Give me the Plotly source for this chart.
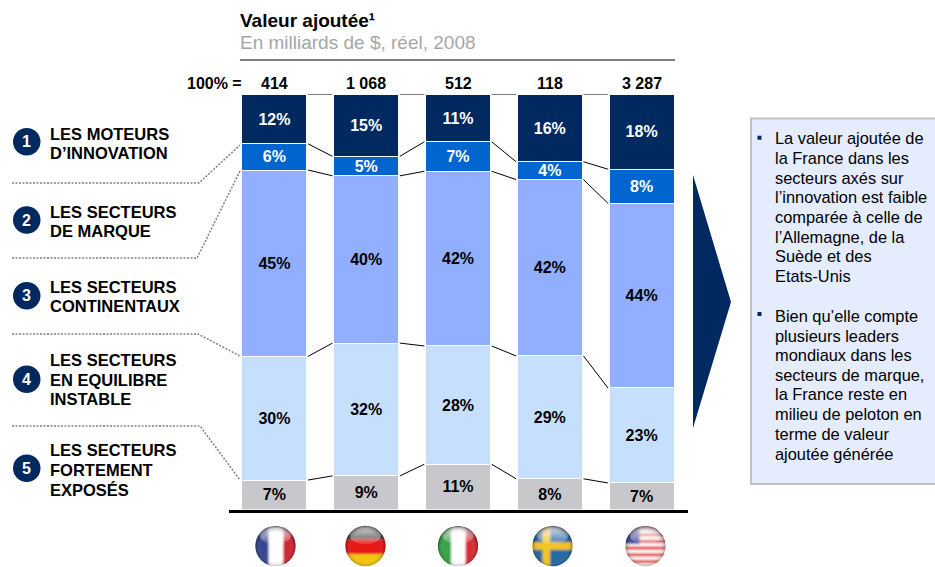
import base64
import plotly.graph_objects as go

W, H = 935, 567
countries = ["France", "Allemagne", "Italie", "Suède", "Etats-Unis"]
totals = ["414", "1 068", "512", "118", "3 287"]
# bottom to top
exposes = [7.1, 8.1, 10.9, 7.4, 6.4]
equilibre = [29.8, 32.0, 28.5, 29.6, 22.9]
continentaux = [44.9, 40.3, 42.1, 42.5, 44.5]
marque = [6.3, 4.7, 7.1, 4.3, 8.2]
moteurs = [11.9, 14.9, 11.4, 16.2, 18.0]
exposes_lbl = ["7%", "9%", "11%", "8%", "7%"]
equilibre_lbl = ["30%", "32%", "28%", "29%", "23%"]
continentaux_lbl = ["45%", "40%", "42%", "42%", "44%"]
marque_lbl = ["6%", "5%", "7%", "4%", "8%"]
moteurs_lbl = ["12%", "15%", "11%", "16%", "18%"]

segments = [
    ("Les secteurs fortement exposés", exposes, exposes_lbl, "#C8C8CC", "#000000"),
    ("Les secteurs en équilibre instable", equilibre, equilibre_lbl, "#C5DFFC", "#000000"),
    ("Les secteurs continentaux", continentaux, continentaux_lbl, "#92AEFF", "#000000"),
    ("Les secteurs de marque", marque, marque_lbl, "#0065CE", "#FFFFFF"),
    ("Les moteurs d'innovation", moteurs, moteurs_lbl, "#002960", "#FFFFFF"),
]
groups = [
    ("1", 141.7, [("LES MOTEURS", 133.5), ("D’INNOVATION", 153.3)]),
    ("2", 220, [("LES SECTEURS", 212.3), ("DE MARQUE", 231.3)]),
    ("3", 295.7, [("LES SECTEURS", 286.7), ("CONTINENTAUX", 306)]),
    ("4", 379.3, [("LES SECTEURS", 360), ("EN EQUILIBRE", 380), ("INSTABLE", 399.3)]),
    ("5", 468.3, [("LES SECTEURS", 450), ("FORTEMENT", 470), ("EXPOSÉS", 490)]),
]
bullets = [
    (137.7, [("La valeur ajoutée de", 138.2), ("la France dans les", 157.8), ("secteurs axés sur", 177.6),
             ("l’innovation est faible", 197.3), ("comparée à celle de", 216.9), ("l’Allemagne, de la", 236.7),
             ("Suède et des", 256.3), ("Etats-Unis", 276.5)]),
    (314, [("Bien qu’elle compte", 316), ("plusieurs leaders", 335.7), ("mondiaux dans les", 355.2),
           ("secteurs de marque,", 374.8), ("la France reste en", 394.4), ("milieu de peloton en", 414),
           ("terme de valeur", 433.8), ("ajoutée générée", 453.6)]),
]

FONT = "Liberation Sans, Arial, sans-serif"
BAR_W = 0.71
xs = list(range(len(countries)))
PLOT_L, PLOT_R, PLOT_T, PLOT_B = 228.5, 687.5, 94.5, 509.5


def px(x):
    return x / W


def py(y):
    return 1 - y / H


fig = go.Figure()
for name, vals, lbls, color, tcolor in segments:
    fig.add_bar(
        x=xs, y=vals, name=name, width=BAR_W, text=lbls, textposition="inside",
        insidetextanchor="middle", textangle=0, constraintext="none",
        textfont=dict(family=FONT, size=16, color=tcolor, weight="bold"),
        marker=dict(color=color, line=dict(color="#FFFFFF", width=1)),
        hoverinfo="name+y", showlegend=False,
    )

# connectors between neighbouring bars, taken from the cumulated values
GAP = 0.012
cum = [0.0] * len(xs)
for _, vals, *_ in segments:
    cum = [c + v for c, v in zip(cum, vals)]
    for i in xs[:-1]:
        fig.add_scatter(
            x=[i + BAR_W / 2 + GAP, i + 1 - BAR_W / 2 - GAP], y=[cum[i], cum[i + 1]], mode="lines",
            line=dict(color="#000000", width=1), hoverinfo="skip", showlegend=False, cliponaxis=False,
        )

shapes = []
ann = []


def text(x, y, s, size=15, color="#000000", bold=False, xanchor="left", yanchor="middle", align="left"):
    ann.append(dict(
        x=px(x), y=py(y), xref="paper", yref="paper", text=s, showarrow=False,
        xanchor=xanchor, yanchor=yanchor, align=align, borderpad=0, borderwidth=0,
        font=dict(family=FONT, size=size, color=color, weight="bold" if bold else "normal"),
    ))


def line(pts, color="#000000", width=1, dash="solid"):
    d = "M" + " L".join(f"{px(a):.5f},{py(b):.5f}" for a, b in pts)
    shapes.append(dict(type="path", path=d, xref="paper", yref="paper",
                       line=dict(color=color, width=width, dash=dash)))


# title block
text(240, 20, "Valeur ajoutée¹", size=19, bold=True)
text(240, 42.7, "En milliards de $, réel, 2008", size=19, color="#A6A6A6")
line([(240, 60), (675, 60)], width=1)

# totals above bars
text(242, 83, "100% =", size=16, bold=True, xanchor="right")
for i, t in zip(xs, totals):
    ann.append(dict(x=i, y=py(83), xref="x", yref="paper", text=t, showarrow=False,
                    xanchor="center", yanchor="middle",
                    font=dict(family=FONT, size=16, color="#000000", weight="bold")))

# left hand groups
for num, yc, lines in groups:
    shapes.append(dict(type="circle", xref="paper", yref="paper",
                       x0=px(13), x1=px(40.5), y0=py(yc + 13.7), y1=py(yc - 13.7),
                       fillcolor="#002960", line=dict(width=0)))
    text(26.8, yc, num, size=16, color="#FFFFFF", bold=True, xanchor="center")
    for s, y in lines:
        text(50, y, s, size=16.5, bold=True)

# dotted guides
for pts in [
    [(12, 183), (199, 183), (240, 145)],
    [(12, 258), (197, 258), (240, 171)],
    [(12, 334), (198, 334), (240, 356)],
    [(12, 426), (200, 426), (240, 480)],
]:
    line(pts, color="#808080", width=1.5, dash="2px,1.5px")

# arrow
shapes.append(dict(type="path", xref="paper", yref="paper", line=dict(width=0), fillcolor="#002960",
                   path=f"M{px(693)},{py(175)} L{px(731)},{py(302)} L{px(693)},{py(428)} Z"))

# call-out box
shapes.append(dict(type="rect", xref="paper", yref="paper", x0=px(751), x1=px(937), y0=py(484), y1=py(118.5),
                   fillcolor="#E4ECFD", line=dict(color="#C0C0C0", width=2)))
for yb, block in bullets:
    shapes.append(dict(type="rect", xref="paper", yref="paper", x0=px(757.5), x1=px(761.5),
                       y0=py(yb + 2), y1=py(yb - 2), fillcolor="#002960", line=dict(width=0)))
    for s, y in block:
        text(775, y, s, size=16.4)


# flags
def flag_svg(body):
    svg = f"""<svg xmlns='http://www.w3.org/2000/svg' width='100' height='100' viewBox='0 0 100 100'>
<defs><clipPath id='c'><circle cx='50' cy='50' r='48'/></clipPath>
<radialGradient id='g' cx='50%' cy='53%' r='52%'><stop offset='0.68' stop-color='#fff' stop-opacity='0.05'/>
<stop offset='0.9' stop-color='#333' stop-opacity='0.25'/><stop offset='1' stop-color='#222' stop-opacity='0.65'/></radialGradient>
<linearGradient id='h' x1='0' y1='0' x2='0' y2='1'><stop offset='0' stop-color='#fff' stop-opacity='0.85'/>
<stop offset='1' stop-color='#fff' stop-opacity='0.1'/></linearGradient>
<filter id='b'><feGaussianBlur stdDeviation='2.4'/></filter></defs>
<g clip-path='url(#c)'><g filter='url(#b)'>{body}</g>
<ellipse cx='50' cy='24' rx='38' ry='22' fill='url(#h)'/>
<circle cx='50' cy='50' r='48' fill='url(#g)'/></g></svg>"""
    return "data:image/svg+xml;base64," + base64.b64encode(svg.encode()).decode()


def R(x, y, w, h, c):
    return f"<rect x='{x}' y='{y}' width='{w}' height='{h}' fill='{c}'/>"


us_stripes = "".join(R(0, y, 100, 8, "#E8403F") for y in range(3, 100, 16))
flags = [
    (R(-9, -9, 43, 118, "#2E3C8E") + R(34, -9, 34, 118, "#FFFFFF") + R(68, -9, 41, 118, "#CE1F2A"), 275.5, 546),
    (R(-9, -9, 118, 43, "#303030") + R(-9, 34, 118, 36, "#E61010") + R(-9, 70, 118, 39, "#F2C200"), 365.5, 546),
    (R(-9, -9, 43, 118, "#2FA040") + R(34, -9, 34, 118, "#FFFFFF") + R(68, -9, 41, 118, "#D6202A"), 458, 546),
    (R(-9, -9, 118, 118, "#1C629F") + R(26, -9, 18, 118, "#F2C21A") + R(-9, 41, 118, 18, "#F2C21A"), 552.5, 546),
    (R(-9, -9, 118, 118, "#FFFFFF") + us_stripes + R(-9, -9, 45, 54, "#3A3F9A"), 645.5, 546),
]
images = [dict(source=flag_svg(b), xref="paper", yref="paper", x=px(cx - 21), y=py(cy - 21),
               sizex=42 / W, sizey=42 / H, xanchor="left", yanchor="top", sizing="stretch", layer="above")
          for b, cx, cy in flags]

fig.update_layout(
    width=W, height=H, margin=dict(l=0, r=0, t=0, b=0), autosize=False,
    barmode="stack", paper_bgcolor="#FFFFFF", plot_bgcolor="#FFFFFF",
    font=dict(family=FONT),
    xaxis=dict(domain=[px(PLOT_L), px(PLOT_R)], range=[-0.5, 4.5], showticklabels=False, ticks="",
               showgrid=False, zeroline=False, showline=True, linecolor="#000000", linewidth=3, fixedrange=True),
    yaxis=dict(domain=[py(PLOT_B), py(PLOT_T)], range=[0, 100], visible=False, showgrid=False,
               zeroline=False, fixedrange=True),
    shapes=shapes, annotations=ann, images=images,
)
fig.write_html("out.html", config={"displayModeBar": False},
               post_script="document.body.style.margin='0';document.documentElement.style.overflow='hidden';")
